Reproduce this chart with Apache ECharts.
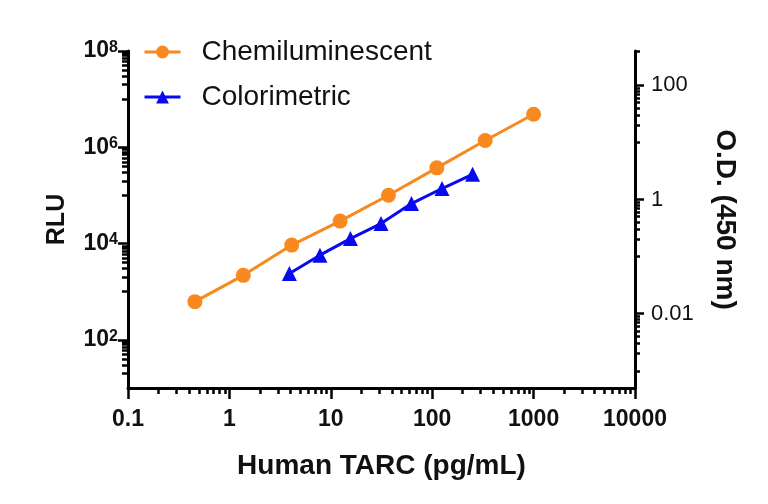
<!DOCTYPE html>
<html>
<head>
<meta charset="utf-8">
<script src="https://cdn.jsdelivr.net/npm/echarts@6/dist/echarts.min.js"></script>
<style>
  html, body { margin: 0; padding: 0; background: #ffffff; }
  #chart { width: 768px; height: 504px; }
</style>
</head>
<body>
<div id="chart"></div>
<script>
// ---- data ----
const chemX = [0.457, 1.372, 4.115, 12.35, 37.04, 111.1, 333.3, 1000];
const chemY = [621, 2190, 9300, 29300, 101000, 374000, 1380000, 4860000];
const colorX = [3.906, 7.813, 15.63, 31.25, 62.5, 125, 250];
const colorY = [0.0506, 0.106, 0.207, 0.38, 0.85, 1.56, 2.77];

// ---- tick values ----
const xMajor = [0.1, 1, 10, 100, 1000, 10000];
const xMinor = [0.2, 0.3, 0.4, 0.5, 0.6, 0.7, 0.8, 0.9,
                2, 3, 4, 5, 6, 7, 8, 9,
                20, 30, 40, 50, 60, 70, 80, 90,
                200, 300, 400, 500, 600, 700, 800, 900,
                2000, 3000, 4000, 5000, 6000, 7000, 8000, 9000];
const leftMajor = [1e2, 1e4, 1e6, 1e8];
const leftMinor = [20, 30, 40, 50, 60, 70, 80, 90,
                   1e3, 2e3, 3e3, 4e3, 5e3, 6e3, 7e3, 8e3, 9e3,
                   1e5, 2e5, 3e5, 4e5, 5e5, 6e5, 7e5, 8e5, 9e5,
                   1e7, 2e7, 3e7, 4e7, 5e7, 6e7, 7e7, 8e7, 9e7];
const rightMajor = [0.01, 1, 100];
const rightMinor = [0.001, 0.002, 0.003, 0.004, 0.005, 0.006, 0.007, 0.008, 0.009,
                    0.1, 0.2, 0.3, 0.4, 0.5, 0.6, 0.7, 0.8, 0.9,
                    10, 20, 30, 40, 50, 60, 70, 80, 90, 400];

const xRange = [0.1, 10000];
const leftRange = [10, 1e8];
const rightRange = [0.0005, 400];

const seriesNames = ['Chemiluminescent', 'Colorimetric'];
const axisTitles = { x: 'Human TARC (pg/mL)', left: 'RLU', right: 'O.D. (450 nm)' };

// ---- chart ----
const FONT = '"Liberation Sans", Arial, sans-serif';
const chart = echarts.init(document.getElementById('chart'), null, { renderer: 'canvas' });

const lineBlack = { color: '#000', width: 3 };
const tickBlack = { color: '#000', width: 2.5 };

function minorAxis(base) {
  return Object.assign({
    type: 'log',
    logBase: 10,
    axisLine: { show: false },
    axisLabel: { show: false },
    splitLine: { show: false },
    minorTick: { show: false },
    silent: true
  }, base);
}

const supFmt = function (v) {
  const e = Math.round(Math.log10(v));
  return '{b|10}{s|' + e + '}';
};

const option = {
  animation: false,
  backgroundColor: '#ffffff',
  grid: { left: 128, right: 133, top: 51, bottom: 116, outerBoundsMode: 'none', containLabel: false },
  legend: {
    data: seriesNames,
    orient: 'vertical',
    left: 143,
    top: 37,
    padding: 0,
    itemWidth: 36,
    itemHeight: 16,
    itemGap: 15,
    lineStyle: { width: 3 },
    textStyle: { fontSize: 28, color: '#111', fontFamily: FONT, lineHeight: 30, padding: [0, 0, 0, 16] }
  },
  xAxis: [
    {
      type: 'log', logBase: 10, min: xRange[0], max: xRange[1], position: 'bottom',
      name: axisTitles.x, nameLocation: 'middle', nameGap: 64,
      nameTextStyle: { fontSize: 28, fontWeight: 'bold', color: '#111', fontFamily: FONT },
      axisLine: { show: true, lineStyle: lineBlack },
      axisTick: { show: true, customValues: xMajor, length: 11, lineStyle: tickBlack },
      axisLabel: { customValues: xMajor, margin: 20, fontSize: 23, fontWeight: 'bold', color: '#111', fontFamily: FONT,
                   formatter: function (v) { return String(v); } },
      splitLine: { show: false }, minorTick: { show: false }
    },
    minorAxis({ min: xRange[0], max: xRange[1], position: 'bottom',
      axisTick: { show: true, customValues: xMinor, length: 6, lineStyle: tickBlack } })
  ],
  yAxis: [
    {
      type: 'log', logBase: 10, min: leftRange[0], max: leftRange[1], position: 'left',
      name: axisTitles.left, nameLocation: 'middle', nameGap: 58,
      nameTextStyle: { fontSize: 25, fontWeight: 'bold', color: '#111', fontFamily: FONT },
      axisLine: { show: true, lineStyle: lineBlack },
      axisTick: { show: true, customValues: leftMajor, length: 10, lineStyle: tickBlack },
      axisLabel: { customValues: leftMajor, margin: 10, color: '#111', formatter: supFmt,
        rich: {
          b: { fontSize: 23, fontWeight: 'bold', fontFamily: FONT, color: '#111', lineHeight: 23 },
          s: { fontSize: 16, fontWeight: 'bold', fontFamily: FONT, color: '#111', lineHeight: 12, verticalAlign: 'top' }
        } },
      splitLine: { show: false }, minorTick: { show: false }
    },
    {
      type: 'log', logBase: 10, min: rightRange[0], max: rightRange[1], position: 'right',
      name: axisTitles.right, nameLocation: 'middle', nameGap: 76, nameRotate: -90,
      nameTextStyle: { fontSize: 28, fontWeight: 'bold', color: '#111', fontFamily: FONT },
      axisLine: { show: true, lineStyle: lineBlack },
      axisTick: { show: true, customValues: rightMajor, length: 9, lineStyle: tickBlack },
      axisLabel: { customValues: rightMajor, margin: 16, fontSize: 22, color: '#111', fontFamily: FONT,
                   formatter: function (v) { return String(v); } },
      splitLine: { show: false }, minorTick: { show: false }
    },
    minorAxis({ min: leftRange[0], max: leftRange[1], position: 'left',
      axisTick: { show: true, customValues: leftMinor, length: 6, lineStyle: tickBlack } }),
    minorAxis({ min: rightRange[0], max: rightRange[1], position: 'right',
      axisTick: { show: true, customValues: rightMinor, length: 5, lineStyle: tickBlack } })
  ],
  series: [
    {
      name: seriesNames[0], type: 'line', xAxisIndex: 0, yAxisIndex: 0,
      data: chemX.map(function (x, i) { return [x, chemY[i]]; }),
      symbol: 'circle', symbolSize: 15,
      lineStyle: { color: '#F7891F', width: 3 },
      itemStyle: { color: '#F7891F' }
    },
    {
      name: seriesNames[1], type: 'line', xAxisIndex: 0, yAxisIndex: 1,
      data: colorX.map(function (x, i) { return [x, colorY[i]]; }),
      symbol: 'triangle', symbolSize: 15,
      lineStyle: { color: '#0A0AF0', width: 3 },
      itemStyle: { color: '#0A0AF0' }
    }
  ]
};
chart.setOption(option);
</script>
</body>
</html>
